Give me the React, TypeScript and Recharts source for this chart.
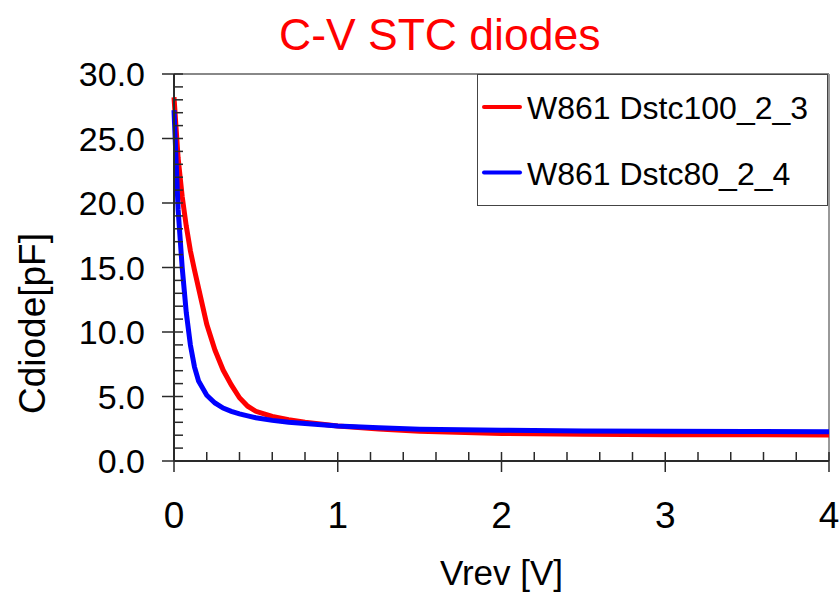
import React from 'react';
import { LineChart, Line, XAxis, YAxis, Legend, ReferenceLine, Label } from 'recharts';

const FONT = '"Liberation Sans", Arial, sans-serif';

const vrev = [0, 0.025, 0.05, 0.075, 0.1, 0.125, 0.15, 0.2, 0.25, 0.3, 0.35, 0.4, 0.45, 0.5, 0.6, 0.7, 0.8, 1.0, 1.25, 1.5, 2.0, 2.5, 3.0, 3.5, 4.0];
const cDstc100 = [28.2, 23.5, 20.5, 18.2, 16.3, 14.8, 13.4, 10.6, 8.6, 7.05, 5.9, 4.9, 4.25, 3.85, 3.45, 3.2, 3.0, 2.72, 2.48, 2.3, 2.13, 2.07, 2.04, 2.03, 2.02];
const cDstc80 = [27.2, 19.5, 15.0, 11.5, 9.0, 7.3, 6.2, 5.1, 4.5, 4.1, 3.85, 3.65, 3.5, 3.35, 3.15, 3.0, 2.9, 2.72, 2.58, 2.47, 2.38, 2.33, 2.3, 2.28, 2.27];

const seriesNames = ['W861 Dstc100_2_3', 'W861 Dstc80_2_4'];
const seriesColors = ['#ff0000', '#0000ff'];

const xTicks = [0, 0.2, 0.4, 0.6, 0.8, 1, 1.2, 1.4, 1.6, 1.8, 2, 2.2, 2.4, 2.6, 2.8, 3, 3.2, 3.4, 3.6, 3.8, 4];
const yTicks = [0, 1, 2, 3, 4, 5, 6, 7, 8, 9, 10, 11, 12, 13, 14, 15, 16, 17, 18, 19, 20, 21, 22, 23, 24, 25, 26, 27, 28, 29, 30];

const title = 'C-V STC diodes';
const xLabel = 'Vrev [V]';
const yLabel = 'Cdiode[pF]';

const data = vrev.map((v, i) => ({ v, a: cDstc100[i], b: cDstc80[i] }));

const AXIS = '#2a2a2a';

const XTick = (props: any) => {
  const { x, y, payload } = props;
  const val = payload.value as number;
  const major = Math.abs(val - Math.round(val)) < 1e-6;
  return (
    <g>
      <line x1={x} x2={x} y1={y - 9} y2={major ? y + 11 : y} stroke={AXIS} strokeWidth={1.5} />
      {major && (
        <text x={x} y={y + 67} textAnchor="middle" fontSize={37} fontFamily={FONT} fill="#000">
          {String(Math.round(val))}
        </text>
      )}
    </g>
  );
};

const YTick = (props: any) => {
  const { x, y, payload } = props;
  const val = payload.value as number;
  const major = Math.round(val) % 5 === 0;
  return (
    <g>
      <line x1={major ? x - 12 : x} x2={x + 9} y1={y} y2={y} stroke={AXIS} strokeWidth={1.5} />
      {major && (
        <text x={x - 29} y={y + 12} textAnchor="end" fontSize={34} fontFamily={FONT} fill="#000">
          {val.toFixed(1)}
        </text>
      )}
    </g>
  );
};

const XLabelContent = (props: any) => {
  const vb = props.viewBox || {};
  return (
    <text x={vb.x + vb.width / 2} y={vb.y + 124} textAnchor="middle" fontSize={35} fontFamily={FONT} fill="#000">
      {xLabel}
    </text>
  );
};

const YLabelContent = (props: any) => {
  const vb = props.viewBox || {};
  const cx = vb.x + 45;
  const cy = vb.y + vb.height / 2 + 56;
  return (
    <text x={cx} y={cy} transform={`rotate(-90, ${cx}, ${cy})`} textAnchor="middle" fontSize={37} fontFamily={FONT} fill="#000">
      {yLabel}
    </text>
  );
};

const LegendContent = (props: any) => {
  const payload = props.payload || [];
  return (
    <svg width={351} height={132} style={{ display: 'block' }}>
      <rect x={0.5} y={0.5} width={350} height={131} fill="#fff" stroke="#444" strokeWidth={1} />
      {payload.map((p: any, i: number) => {
        const cy = 33 + i * 65.5;
        return (
          <g key={i}>
            <line x1={7} x2={43} y1={cy} y2={cy} stroke={p.color} strokeWidth={4} strokeLinecap="round" />
            <text x={50} y={cy + 12} fontSize={32} fontFamily={FONT} fill="#000">
              {p.value}
            </text>
          </g>
        );
      })}
    </svg>
  );
};

export default function App() {
  return (
    <div style={{ position: 'absolute', left: 0, top: 0, width: 839, height: 592, background: '#fff' }}>
      <LineChart width={839} height={592} data={data} margin={{ top: 74, right: 10, left: 0, bottom: 0 }}>
        <text x={279} y={50} fontSize={44.5} fontFamily={FONT} fill="#ff0000">
          {title}
        </text>
        <XAxis
          dataKey="v"
          type="number"
          domain={[0, 4]}
          ticks={xTicks}
          interval={0}
          height={131}
          tickSize={0}
          tickMargin={0}
          tickLine={false}
          axisLine={{ stroke: AXIS, strokeWidth: 2 }}
          tick={<XTick />}
        >
          <Label content={<XLabelContent />} />
        </XAxis>
        <YAxis
          type="number"
          domain={[0, 30]}
          ticks={yTicks}
          interval={0}
          width={174}
          tickSize={0}
          tickMargin={0}
          tickLine={false}
          axisLine={{ stroke: AXIS, strokeWidth: 2 }}
          tick={<YTick />}
        >
          <Label content={<YLabelContent />} />
        </YAxis>
        <ReferenceLine y={30} stroke="#888" strokeWidth={2} />
        <ReferenceLine x={4} stroke="#999" strokeWidth={2} />
        <Line type="linear" dataKey="a" name={seriesNames[0]} stroke={seriesColors[0]} strokeWidth={5} dot={false} isAnimationActive={false} />
        <Line type="linear" dataKey="b" name={seriesNames[1]} stroke={seriesColors[1]} strokeWidth={5} dot={false} isAnimationActive={false} />
        <Legend
          layout="horizontal"
          verticalAlign="middle"
          align="center"
          width={351}
          wrapperStyle={{ left: 477, top: 74, width: 351, height: 132 }}
          content={<LegendContent />}
        />
      </LineChart>
    </div>
  );
}
